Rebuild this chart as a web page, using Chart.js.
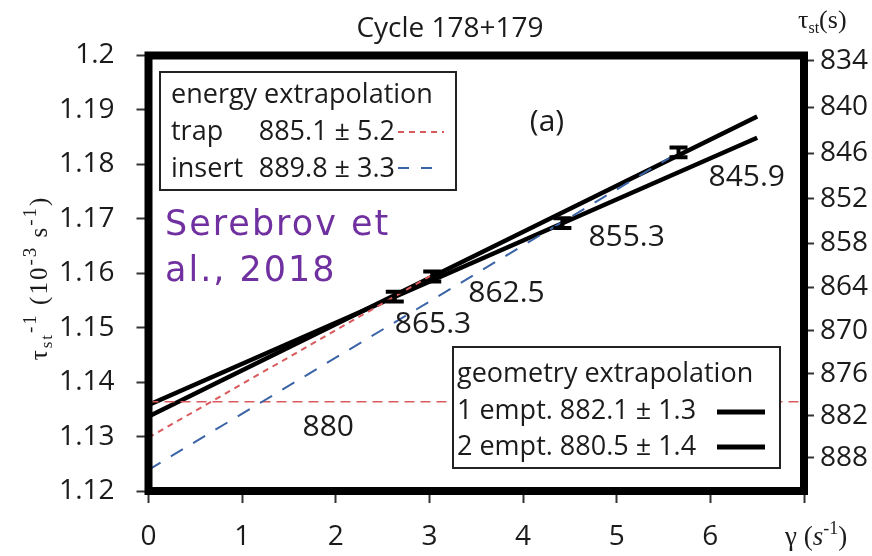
<!DOCTYPE html>
<html>
<head>
<meta charset="utf-8">
<script src="https://cdn.jsdelivr.net/npm/chart.js@4.4.0/dist/chart.umd.min.js"></script>
<style>
  html, body { margin: 0; padding: 0; background: #fff; }
  #wrap { width: 872px; height: 556px; }
</style>
</head>
<body>
<div id="wrap"><canvas id="chart" width="872" height="556"></canvas></div>
<script>
// Puntos medidos (gamma en s^-1, tasa en 10^-3 s^-1)
const gamma = [2.63, 3.03, 4.42, 5.66];
const rate = [1.1557, 1.1594, 1.1692, 1.1822];
const rateErr = [0.0009, 0.0009, 0.0009, 0.0009];
const pointLabels = ['865.3', '862.5', '855.3', '845.9'];

// Rectas de extrapolación (se cruzan cerca de gamma = 2.2)
const fitX = [0, 6.5];
const oneEmpty = [1.1337, 1.1888];
const twoEmpty = [1.1358, 1.1849];
const trapX = [0, 3.03];
const trapY = [1.1298, 1.1597];
const insertX = [0, 5.66];
const insertY = [1.1239, 1.1822];
const refX = [0, 7];
const refY = [1.1364, 1.1364];
const refLabel = '880';
const refLabelX = 1.92;

// Ejes
const xTicks = [0, 1, 2, 3, 4, 5, 6, 7];
const yTicks = [1.12, 1.13, 1.14, 1.15, 1.16, 1.17, 1.18, 1.19, 1.2];
const tauTicks = [834, 840, 846, 852, 858, 864, 870, 876, 882, 888];

// Textos de las leyendas
const energyRows = [['trap', '885.1 ± 5.2'], ['insert', '889.8 ± 3.3']];
const geometryRows = ['1 empt. 882.1 ± 1.3', '2 empt. 880.5 ± 1.4'];

const RED = '#d85a5c';
const BLUE = '#3a64a6';
const INK = '#1b1b1b';
const SANS = "'Open Sans', 'Liberation Sans', sans-serif";
const SERIF = "'Liberation Serif', 'DejaVu Serif', serif";

// desplazamientos (px) de las etiquetas respecto a cada punto
const labelOffsets = [[0, 28], [36, 17], [26, 14], [30, 25]];

function pairs(xs, ys) {
    return xs.map((x, i) => ({ x: x, y: ys[i] }));
}

function richWidth(ctx, parts) {
    let w = 0;
    parts.forEach(p => { ctx.font = p.font; w += ctx.measureText(p.t).width; });
    return w;
}

function drawRich(ctx, parts, x, y) {
    let cx = x;
    parts.forEach(p => {
        ctx.font = p.font;
        ctx.fillText(p.t, cx, y + (p.dy || 0));
        cx += ctx.measureText(p.t).width;
    });
}

const decor = {
    id: 'decor',
    afterDatasetsDraw(chart) {
        const ctx = chart.ctx;
        const a = chart.chartArea;
        const xs = chart.scales.x;
        const ys = chart.scales.y;

        ctx.save();

        // barras de error
        ctx.strokeStyle = '#000';
        gamma.forEach((g, i) => {
            const px = xs.getPixelForValue(g);
            const y1 = ys.getPixelForValue(rate[i] + rateErr[i]);
            const y2 = ys.getPixelForValue(rate[i] - rateErr[i]);
            ctx.lineWidth = 4;
            ctx.beginPath(); ctx.moveTo(px, y1); ctx.lineTo(px, y2); ctx.stroke();
            ctx.lineWidth = 4;
            ctx.beginPath();
            ctx.moveTo(px - 9, y1); ctx.lineTo(px + 9, y1);
            ctx.moveTo(px - 9, y2); ctx.lineTo(px + 9, y2);
            ctx.stroke();
        });

        // marco grueso
        ctx.lineWidth = 8;
        ctx.lineJoin = 'miter';
        ctx.strokeStyle = '#000';
        ctx.strokeRect(a.left, a.top, a.right - a.left, a.bottom - a.top);

        // etiquetas de los puntos
        ctx.fillStyle = INK;
        ctx.font = '30px ' + SANS;
        ctx.textAlign = 'left';
        ctx.textBaseline = 'middle';
        pointLabels.forEach((t, i) => {
            const px = xs.getPixelForValue(gamma[i]);
            const py = ys.getPixelForValue(rate[i]);
            ctx.fillText(t, px + labelOffsets[i][0], py + labelOffsets[i][1]);
        });
        ctx.textAlign = 'center';
        ctx.fillText(refLabel, xs.getPixelForValue(refLabelX), ys.getPixelForValue(refY[0]) + 26);
        ctx.fillText('(a)', 547, 122);

        // leyenda: energy extrapolation
        ctx.fillStyle = '#fff';
        ctx.fillRect(160, 72, 296, 118);
        ctx.lineWidth = 2;
        ctx.strokeStyle = '#222';
        ctx.strokeRect(160, 72, 296, 118);
        ctx.fillStyle = INK;
        ctx.font = '27px ' + SANS;
        ctx.textAlign = 'left';
        ctx.fillText('energy extrapolation', 171, 95);
        ctx.fillText(energyRows[0][0], 171, 132);
        ctx.fillText(energyRows[1][0], 171, 169);
        ctx.textAlign = 'right';
        ctx.fillText(energyRows[0][1], 395, 132);
        ctx.fillText(energyRows[1][1], 395, 169);
        ctx.lineWidth = 2;
        ctx.strokeStyle = RED;
        ctx.setLineDash([6, 5]);
        ctx.beginPath(); ctx.moveTo(398, 132); ctx.lineTo(444, 132); ctx.stroke();
        ctx.strokeStyle = BLUE;
        ctx.setLineDash([11, 12]);
        ctx.beginPath(); ctx.moveTo(398, 168); ctx.lineTo(444, 168); ctx.stroke();
        ctx.setLineDash([]);

        // leyenda: geometry extrapolation
        ctx.fillStyle = '#fff';
        ctx.fillRect(453, 347, 327, 121);
        ctx.lineWidth = 2;
        ctx.strokeStyle = '#222';
        ctx.strokeRect(453, 347, 327, 121);
        ctx.fillStyle = INK;
        ctx.textAlign = 'left';
        ctx.fillText('geometry extrapolation', 457, 374);
        ctx.fillText(geometryRows[0], 457, 411);
        ctx.fillText(geometryRows[1], 457, 447);
        ctx.lineWidth = 5;
        ctx.strokeStyle = '#000';
        ctx.beginPath();
        ctx.moveTo(717, 412); ctx.lineTo(765, 412);
        ctx.moveTo(717, 447); ctx.lineTo(765, 447);
        ctx.stroke();

        // cita
        ctx.fillStyle = '#7030a0';
        ctx.font = '35px "DejaVu Sans", sans-serif';
        ctx.letterSpacing = '2px';
        ctx.textBaseline = 'alphabetic';
        ctx.fillText('Serebrov et', 165, 235);
        ctx.fillText('al., 2018', 165, 281);
        ctx.letterSpacing = '0px';

        ctx.restore();
    },
    afterDraw(chart) {
        const ctx = chart.ctx;
        ctx.save();
        ctx.fillStyle = INK;

        // título
        ctx.font = '28px ' + SANS;
        ctx.textAlign = 'center';
        ctx.textBaseline = 'middle';
        ctx.fillText('Cycle 178+179', 450, 29);

        ctx.textAlign = 'left';
        ctx.textBaseline = 'alphabetic';

        // eje derecho: tau_st (s)
        drawRich(ctx, [
            { t: 'τ', font: '26px ' + SERIF },
            { t: 'st', font: '16px ' + SERIF, dy: 5 },
            { t: '(s)', font: '26px ' + SERIF }
        ], 798, 28);

        // eje x: gamma (s^-1)
        drawRich(ctx, [
            { t: 'γ (', font: '27px ' + SERIF },
            { t: 's', font: 'italic 27px ' + SERIF },
            { t: '-1', font: '18px ' + SERIF, dy: -11 },
            { t: ')', font: '27px ' + SERIF }
        ], 785, 545);

        // eje y: tau_st^-1 (10^-3 s^-1), girado
        const yParts = [
            { t: 'τ', font: '25px ' + SERIF },
            { t: 'st', font: '17px ' + SERIF, dy: 5 },
            { t: '-1', font: '19px ' + SERIF, dy: -11 },
            { t: ' (10', font: '25px ' + SERIF },
            { t: '-3', font: '19px ' + SERIF, dy: -11 },
            { t: ' s', font: '25px ' + SERIF },
            { t: '-1', font: '19px ' + SERIF, dy: -11 },
            { t: ')', font: '25px ' + SERIF }
        ];
        ctx.translate(47, 278);
        ctx.rotate(-Math.PI / 2);
        ctx.letterSpacing = '2px';
        const w = richWidth(ctx, yParts);
        drawRich(ctx, yParts, -w / 2, 0);
        ctx.restore();
    }
};

const lineBase = { showLine: true, pointRadius: 0, fill: false, tension: 0 };

new Chart(document.getElementById('chart'), {
    type: 'scatter',
    data: {
        datasets: [
            Object.assign({ data: pairs(trapX, trapY), borderColor: RED, borderWidth: 2, borderDash: [6, 5] }, lineBase),
            Object.assign({ data: pairs(insertX, insertY), borderColor: BLUE, borderWidth: 2, borderDash: [14, 12] }, lineBase),
            Object.assign({ data: pairs(refX, refY), borderColor: RED, borderWidth: 1.5, borderDash: [10, 6] }, lineBase),
            Object.assign({ data: pairs(fitX, twoEmpty), borderColor: '#000', borderWidth: 4.5 }, lineBase),
            Object.assign({ data: pairs(fitX, oneEmpty), borderColor: '#000', borderWidth: 4.5 }, lineBase),
            { data: pairs(gamma, rate), pointRadius: 0, showLine: false }
        ]
    },
    options: {
        responsive: false,
        animation: false,
        devicePixelRatio: 1,
        layout: { padding: { top: 55.5, left: 0, right: 0, bottom: 0 } },
        plugins: { legend: { display: false }, tooltip: { enabled: false } },
        scales: {
            x: {
                type: 'linear',
                position: 'bottom',
                min: 0, max: 7,
                afterBuildTicks: s => { s.ticks = xTicks.map(v => ({ value: v })); },
                afterFit: s => { s.height = 65; },
                border: { display: false },
                grid: { drawOnChartArea: false, drawTicks: true, tickLength: 12, tickWidth: 2, tickColor: '#333' },
                ticks: {
                    padding: 17,
                    color: INK,
                    font: { family: SANS, size: 28 },
                    maxRotation: 0,
                    callback: v => (v === 7 ? '' : String(v))
                }
            },
            y: {
                type: 'linear',
                position: 'left',
                min: 1.12, max: 1.2,
                afterBuildTicks: s => { s.ticks = yTicks.map(v => ({ value: v })); },
                afterFit: s => { s.width = 148.5; },
                border: { display: false },
                grid: { drawOnChartArea: false, drawTicks: true, tickLength: 12, tickWidth: 2, tickColor: '#333' },
                ticks: {
                    padding: 22,
                    color: INK,
                    font: { family: SANS, size: 28 },
                    callback: v => String(parseFloat(v.toFixed(2)))
                }
            },
            tau: {
                type: 'linear',
                position: 'right',
                min: 1.12, max: 1.2,
                afterBuildTicks: s => { s.ticks = tauTicks.map(t => ({ value: 1000 / t })); },
                afterFit: s => { s.width = 68; },
                border: { display: false },
                grid: { drawOnChartArea: false, drawTicks: true, tickLength: 10, tickWidth: 2, tickColor: '#333' },
                ticks: {
                    padding: 6,
                    color: INK,
                    font: { family: SANS, size: 28 },
                    callback: v => String(Math.round(1000 / v))
                }
            }
        }
    },
    plugins: [decor]
});
</script>
</body>
</html>
